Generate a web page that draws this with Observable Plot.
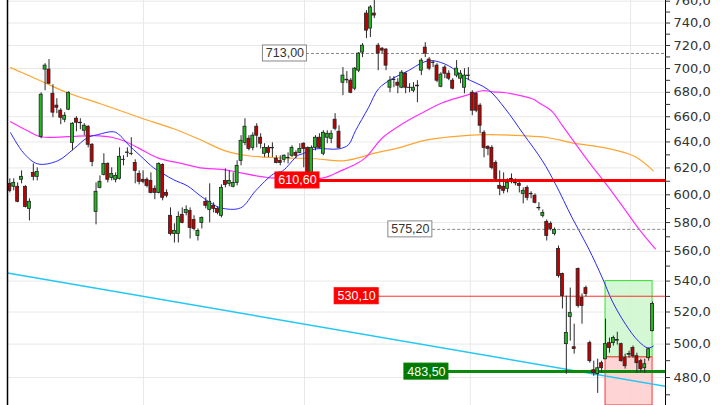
<!DOCTYPE html>
<html><head><meta charset="utf-8">
<script src="https://cdn.jsdelivr.net/npm/d3@7"></script>
<script src="https://cdn.jsdelivr.net/npm/@observablehq/plot@0.6"></script>
<style>body{margin:0;background:#fff}#chart{width:720px;height:405px;overflow:hidden}</style>
</head><body><div id="chart"></div>
<script>
// OHLC per session: [open, high, low, close]
const ohlc = [
[608.1,611.8,601.4,602.9],[605.9,611.8,602.9,608.8],[605.9,608.8,594.2,594.9],[611.1,617.8,608.1,613.3],
[605.9,606.6,590.5,591.2],[589.8,597.1,581.2,594.9],[616.3,623.1,610.3,613.3],[613.3,620.1,610.3,617.0],
[644.0,679.6,642.5,678.0],[699.1,704.2,681.3,702.5],[699.1,707.7,686.4,687.2],[678.8,686.3,659.2,663.3],
[669.0,674.7,662.5,667.3],[664.9,666.5,653.6,659.2],[657.6,663.3,655.2,660.8],[665.7,680.4,664.9,679.6],
[639.3,655.2,633.1,654.4],[658.4,660.0,648.0,655.2],[655.2,658.4,649.6,654.8],[648.8,654.4,644.9,652.8],
[652.0,652.8,635.4,637.8],[637.8,638.6,620.9,624.6],[587.6,608.8,578.4,602.2],[605.1,614.0,604.4,609.6],
[614.8,630.8,614.0,623.1],[623.1,623.8,608.8,611.1],[612.5,620.1,610.3,615.5],[611.1,616.3,608.8,614.0],
[611.8,635.4,611.0,628.5],[626.2,629.3,621.6,626.0],[631.5,635.4,628.0,631.8],[630.8,643.3,629.3,630.6],
[623.8,626.2,608.1,617.8],[615.5,617.8,607.3,609.6],[611.1,617.8,608.1,609.6],[611.1,612.5,605.1,606.6],
[610.3,616.3,600.7,601.4],[604.4,606.6,596.4,601.4],[601.4,623.8,600.7,623.1],[622.3,623.1,595.6,597.8],
[601.4,603.6,597.8,599.3],[584.8,590.5,570.6,572.0],[572.0,579.1,565.7,574.1],[572.0,587.6,565.7,584.0],
[585.5,590.5,579.1,579.8],[586.9,592.0,584.8,589.0],[588.3,590.5,568.5,576.2],[581.9,584.8,574.1,575.5],
[570.6,575.5,567.1,574.1],[579.8,584.0,575.5,583.3],[594.9,597.8,589.8,592.0],[589.0,608.1,579.8,594.9],
[592.0,594.2,586.9,589.8],[589.8,591.2,585.5,586.9],[584.8,607.3,583.3,605.1],[610.3,619.3,605.1,607.3],
[608.1,617.8,605.9,610.3],[605.9,616.3,605.1,608.8],[608.8,625.4,606.6,621.6],[625.4,644.9,621.6,640.9],
[639.3,658.4,637.0,652.0],[642.5,644.9,633.1,634.6],[635.4,647.2,633.1,644.9],[652.0,654.4,635.4,644.9],
[643.3,646.4,634.6,638.6],[630.8,638.6,628.0,635.4],[635.4,637.0,628.0,631.5],[635.4,639.3,628.0,635.0],
[627.0,629.3,623.1,623.8],[625.4,629.3,621.6,623.8],[626.2,630.0,623.8,629.3],[627.7,631.5,623.1,627.4],
[629.3,637.0,628.0,635.4],[631.5,633.1,627.0,629.3],[631.5,638.6,630.8,634.6],[638.6,639.3,620.1,634.6],
[635.4,636.0,613.3,614.0],[614.0,636.9,612.5,635.4],[635.4,644.9,633.1,643.3],[643.3,646.4,634.6,635.4],
[630.8,648.8,629.3,647.2],[643.3,648.8,638.6,646.4],[642.5,648.8,638.6,646.4],[657.6,662.5,648.8,650.4],
[648.0,652.8,634.6,635.4],[688.0,700.8,677.2,694.0],[690.5,697.4,687.2,690.0],[689.7,691.4,678.8,679.6],
[683.0,700.8,681.3,699.9],[698.2,713.8,696.5,712.9],[713.8,721.7,709.4,719.8],[748.6,751.4,726.1,733.2],
[735.0,756.0,727.0,754.2],[748.6,760.6,744.0,746.8],[719.8,721.7,698.2,712.9],[717.2,718.1,712.9,715.5],
[716.4,717.2,698.2,702.5],[683.8,693.1,679.6,689.7],[690.5,693.1,683.8,690.2],[688.0,691.4,678.8,685.5],
[683.8,698.2,683.0,696.5],[695.6,696.5,678.8,683.8],[683.8,687.2,679.6,683.5],[681.3,688.0,679.6,683.8],
[685.5,689.7,671.4,685.0],[698.2,708.5,694.0,706.8],[718.1,722.5,709.4,712.9],[707.7,709.4,698.2,699.9],
[705.1,706.8,700.8,704.8],[702.5,704.2,688.0,689.7],[684.6,696.5,683.8,694.8],[700.8,702.5,691.4,695.6],
[695.6,698.2,689.7,691.4],[689.7,691.4,682.1,683.0],[694.0,706.8,692.2,699.9],[691.4,698.2,687.2,695.6],
[683.8,699.9,678.8,694.0],[694.0,700.8,689.7,693.6],[679.6,681.3,660.8,664.9],[678.8,679.6,663.3,664.9],
[669.0,670.6,646.4,652.8],[647.2,648.8,627.7,635.4],[636.2,637.0,629.3,634.6],[635.4,637.0,618.6,620.1],
[623.8,625.4,610.3,611.8],[606.6,617.8,599.3,604.4],[605.9,616.3,600.7,602.9],[604.4,611.8,601.4,608.8],
[611.8,615.5,608.1,611.5],[608.8,611.8,606.6,608.5],[608.1,609.6,601.4,606.6],[600.7,605.1,593.4,602.9],
[605.1,606.6,595.6,597.8],[600.7,602.2,597.1,600.4],[599.3,600.7,593.4,594.2],[590.5,594.2,588.3,590.2],
[584.8,589.0,583.3,586.9],[580.5,581.9,567.1,570.6],[579.1,580.5,574.1,575.5],[572.0,576.2,570.6,574.8],
[561.6,563.6,542.0,543.4],[544.7,545.3,521.9,530.2],[500.0,530.2,481.9,506.8],[516.8,535.4,501.8,519.3],
[498.1,512.3,493.9,497.0],[548.0,548.7,522.5,523.8],[529.0,531.6,512.3,523.8],[535.4,536.7,529.7,531.6],
[500.6,501.8,488.5,489.7],[484.3,489.7,480.7,482.5],[482.0,490.9,470.8,485.5],[488.5,489.7,482.5,485.5],
[490.8,515.5,490.8,500.0],[500.6,503.7,494.5,497.6],[500.6,504.9,498.8,503.7],[502.1,507.3,499.4,502.6],
[500.0,500.6,489.1,489.7],[491.5,493.9,485.0,486.7],[494.0,495.7,491.5,493.6],[497.6,498.8,491.5,492.7],
[492.7,494.5,482.5,488.5],[489.7,490.9,483.1,484.9],[485.5,490.9,482.5,487.9],[491.5,497.6,489.7,496.9],
[508.0,526.4,507.5,525.1]
];

// Moving averages: [session index, value]
const blueMA = [[0.2,647.2],[3.5,631.5],[7.1,623.1],[12.2,625.4],[16.3,634.6],[19.8,643.3],[22.4,645.7],[26.5,648.0],
[28.2,644.9],[30.0,638.6],[33.3,629.3],[36.7,620.1],[39.2,615.5],[41.8,611.1],[45.3,606.6],[48.6,599.3],[51.2,594.2],
[53.8,590.5],[58.9,590.5],[62.7,602.9],[67.3,615.5],[69.6,617.8],[73.4,629.3],[74.7,630.8],[78.0,634.6],[83.9,634.6],
[86.4,637.8],[88.2,648.8],[91.5,667.3],[94.1,683.0],[97.6,691.4],[101.7,698.2],[105.3,705.1],[107.8,706.8],[111.9,702.5],
[116.2,692.2],[122.1,682.1],[126.4,666.5],[131.0,646.4],[135.9,625.4],[139.2,608.1],[143.5,583.3],[147.6,562.3],
[151.2,542.0],[153.7,527.0],[157.1,512.3],[160.4,501.8],[162.9,497.6],[164.2,498.8]];
const pinkMA = [[0.2,656.0],[4.5,648.8],[7.8,644.1],[14.7,644.1],[21.4,644.9],[26.5,643.3],[29.0,640.9],[33.0,635.0],
[37.7,627.7],[44.3,623.1],[48.6,620.1],[55.0,618.6],[58.9,616.3],[66.5,612.5],[74.2,612.5],[80.0,612.5],[84.4,617.8],
[87.4,621.6],[90.7,627.7],[95.1,643.3],[100.2,654.4],[105.3,663.3],[110.4,671.4],[116.2,677.2],[120.6,681.3],[123.4,680.4],
[126.5,679.6],[130.3,677.2],[133.3,674.7],[135.4,670.6],[138.4,664.1],[141.0,652.8],[143.8,640.9],[148.1,623.1],
[152.5,606.6],[156.8,589.8],[160.9,574.1],[164.7,561.6]];
const orangeMA = [[0.2,700.8],[7.8,689.7],[14.7,679.6],[23.1,670.6],[33.3,659.2],[41.8,650.4],[48.6,641.7],[55.0,633.1],
[60.9,629.3],[69.6,627.7],[78.0,627.0],[84.9,625.4],[88.9,627.7],[93.3,631.5],[99.2,635.4],[105.3,640.9],[110.4,643.3],
[116.2,644.9],[122.1,645.7],[130.8,644.9],[137.4,643.3],[143.5,639.3],[151.9,635.4],[157.8,630.8],[160.1,627.7],[164.2,617.8]];
const trendLine = [[-0.59,545.3],[167.3,474.9]];

// Horizontal levels
const levelValues = [713.00, 610.60, 575.20, 530.10, 483.50];
const levelLabels = ["713,00", "610,60", "575,20", "530,10", "483,50"];
const zoneTop = 540.0, zoneMid = 492.0;

// Axis ticks
const majorTicks = [480, 500, 520, 540, 560, 580, 600, 620, 640, 660, 680, 700, 720, 740, 760];
const minorTicks = [470, 490, 510, 530, 550, 570, 590, 610, 630, 650, 670, 690, 710, 730, 750];
const tickLabels = majorTicks.map(v => v.toFixed(1).replace(".", ","));

// layout (session-index positions)
const levelLabelAt = [70.2, 73.4, 102.2, 88.5, 106.3];
const levelLineFrom = [75.7, 79.0, 107.9, 94.1, 111.9];
const levelStyle = [
  {stroke:"#888", width:1, dash:"3,2", box:"#fff", boxStroke:"#888", text:"#333"},
  {stroke:"#ff0000", width:3, dash:null, box:"#ff0000", boxStroke:"#ff0000", text:"#fff"},
  {stroke:"#888", width:1, dash:"3,2", box:"#fff", boxStroke:"#888", text:"#333"},
  {stroke:"#ff3030", width:1, dash:null, box:"#ff0000", boxStroke:"#ff0000", text:"#fff"},
  {stroke:"#0a8a0a", width:3, dash:null, box:"#007a00", boxStroke:"#007a00", text:"#fff"}
];
const xDomain = [-0.59, 167.3];
const yDomain = [463.9, 760.65];
const tickLen = 1.3; // in session units (~5px)
const zoneX = [152.0, 164.0];
const gridX = [34.1, 75.2, 117.5, 158.4];

const candles = ohlc.map((d, i) => ({i, open: d[0], high: d[1], low: d[2], close: d[3]}));
const levels = levelValues.map((v, k) => ({value: v, label: levelLabels[k], at: levelLabelAt[k], from: levelLineFrom[k], ...levelStyle[k]}));
const axisLabels = majorTicks.map((v, k) => ({v, t: tickLabels[k]}));

const levelRules = levels.map(d => Plot.ruleY([d], {y: "value", x1: "from", x2: xDomain[1], stroke: d.stroke, strokeWidth: d.width, strokeDasharray: d.dash || undefined}));

const chart = Plot.plot({
  width: 720, height: 405,
  marginLeft: 7, marginRight: 55, marginTop: 0, marginBottom: 0,
  style: {fontFamily: "DejaVu Sans", fontSize: "13px", color: "#333", background: "#fff"},
  x: {domain: xDomain, axis: null},
  y: {type: "log", domain: yDomain, axis: null},
  marks: [
    Plot.ruleY(majorTicks, {stroke: "#e8e8e8", x1: xDomain[0], x2: xDomain[1]}),
    Plot.ruleX(gridX, {stroke: "#e8e8e8"}),
    Plot.rect([0], {x1: zoneX[0], x2: zoneX[1], y1: zoneTop, y2: zoneMid, fill: "#ccf7cc", fillOpacity: 0.85, stroke: "#33e033"}),
    Plot.rect([0], {x1: zoneX[0], x2: zoneX[1], y1: zoneMid, y2: yDomain[0], fill: "#ffcdcd", fillOpacity: 0.85, stroke: "#ff3333", clip: true}),
    Plot.line(trendLine, {x: d => d[0], y: d => d[1], stroke: "#22c8f5", strokeWidth: 1.5, clip: true}),
    Plot.line(orangeMA, {x: d => d[0], y: d => d[1], stroke: "#ffa530", strokeWidth: 1.2, curve: "catmull-rom"}),
    Plot.line(pinkMA, {x: d => d[0], y: d => d[1], stroke: "#ff30ff", strokeWidth: 1.2, curve: "catmull-rom"}),
    Plot.line(blueMA, {x: d => d[0], y: d => d[1], stroke: "#2a2aff", strokeWidth: 1, curve: "catmull-rom"}),
    ...levelRules,
    Plot.ruleX(candles, {x: "i", y1: "low", y2: "high", stroke: "#2a2a2a", strokeWidth: 1}),
    Plot.rect(candles, {x1: d => d.i - 0.38, x2: d => d.i + 0.38, y1: "open", y2: "close",
      fill: d => d.close >= d.open ? "#1fb81f" : "#bf0000", stroke: "#222", strokeWidth: 0.8}),
    Plot.rect(levels, {x1: "at", x2: "at", y1: "value", y2: "value", insetLeft: -22, insetRight: -22, insetTop: -8, insetBottom: -8,
      fill: d => d.box, stroke: d => d.boxStroke, strokeWidth: 1}),
    Plot.text(levels, {x: "at", y: "value", text: "label", fill: d => d.text, fontSize: 12.5, fontFamily: "Liberation Sans"}),
    // right axis
    Plot.ruleX([xDomain[1]], {stroke: "#000", strokeWidth: 1}),
    Plot.ruleY(majorTicks, {x1: xDomain[1], x2: xDomain[1] + tickLen, stroke: "#333"}),
    Plot.ruleY(minorTicks, {x1: xDomain[1], x2: xDomain[1] + tickLen, stroke: "#333"}),
    Plot.text(axisLabels, {x: xDomain[1], y: "v", text: "t", dx: 8, textAnchor: "start", fill: "#333", fontSize: 13, fontFamily: "DejaVu Sans"}),
    Plot.ruleX([xDomain[0]], {stroke: "#000", strokeWidth: 1.5})
  ]
});
document.getElementById("chart").appendChild(chart);
</script>
</body></html>
